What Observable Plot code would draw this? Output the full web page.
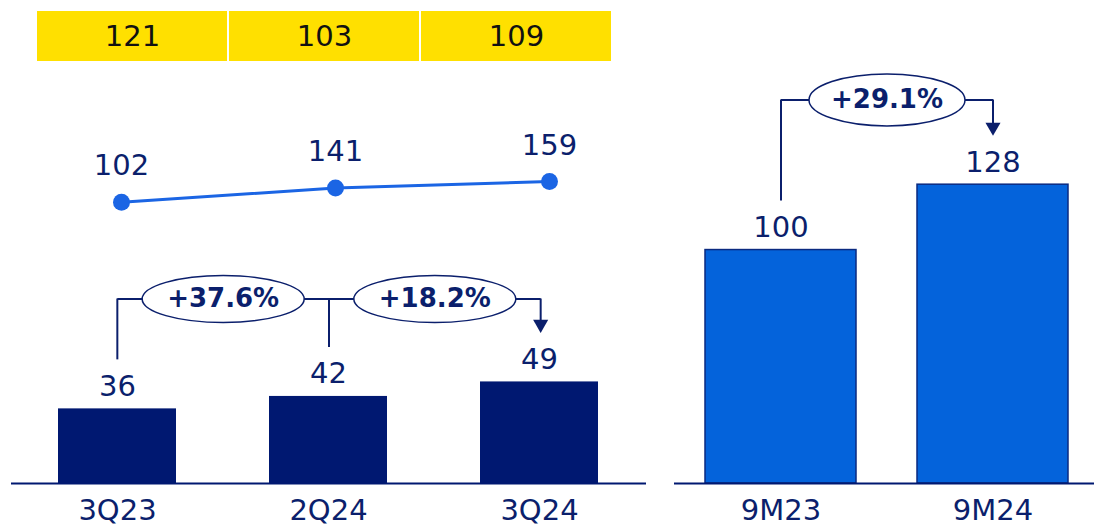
<!DOCTYPE html>
<html><head><meta charset="utf-8">
<script src="https://cdn.jsdelivr.net/npm/d3@7"></script>
<script src="https://cdn.jsdelivr.net/npm/@observablehq/plot@0.6"></script>
<style>
html,body{margin:0;padding:0;background:#fff;}
#chart{position:relative;width:1094px;height:529px;overflow:hidden;}
#chart > svg{position:absolute;left:0;top:0;}
</style></head><body><div id="chart"></div>
<script>
// ---- data ----
const quarters = ["3Q23", "2Q24", "3Q24"];
const quarterBars = [36, 42, 49];
const quarterLine = [102, 141, 159];
const quarterBoxes = [121, 103, 109];
const quarterGrowth = ["+37.6%", "+18.2%"];
const periods = ["9M23", "9M24"];
const periodBars = [100, 128];
const periodGrowth = ["+29.1%"];

// ---- style ----
const W = 1094, H = 529;
const NAVY = "#0b1f6c", BAR = "#001871", BLUE = "#1b65e4", RBAR = "#0463db", RSTROKE = "#0a2a80", YEL = "#ffe000";
const FONT = "DejaVu Sans";
const base = {width: W, height: H, style: {background: "transparent", fontFamily: FONT, color: NAVY, overflow: "visible"}};
const BASE_Y = 483;      // baseline pixel of both bar panels
const GAP = 49;          // px gap between bar top and bracket end
const LEVEL_L = 89;      // bracket level (left bar units)
const LEVEL_R = 164.3;   // bracket level (right bar units)
const YMAX_L = 233, YMAX_R = 206.9;

function ellipseSymbol(rx, ry) {
  const k = 0.5523;
  return {draw(c) {
    c.moveTo(rx, 0);
    c.bezierCurveTo(rx, ry * k, rx * k, ry, 0, ry);
    c.bezierCurveTo(-rx * k, ry, -rx, ry * k, -rx, 0);
    c.bezierCurveTo(-rx, -ry * k, -rx * k, -ry, 0, -ry);
    c.bezierCurveTo(rx * k, -ry, rx, -ry * k, rx, 0);
    c.closePath();
  }};
}

const root = document.getElementById("chart");
const add = (p) => root.appendChild(p);

// ---- left bars ----
const qData = quarters.map((q, i) => ({q, v: quarterBars[i]}));
add(Plot.plot({...base,
  marginLeft: 11, marginRight: W - 646, marginTop: 0, marginBottom: H - BASE_Y,
  x: {type: "band", domain: quarters, paddingInner: 0.44, paddingOuter: 0.22},
  y: {domain: [0, YMAX_L], axis: null},
  marks: [
    Plot.barY(qData, {x: "q", y: "v", fill: BAR}),
    Plot.text(qData, {x: "q", y: "v", text: d => String(d.v), dy: -13, lineAnchor: "bottom", fontSize: 29, fill: NAVY}),
    Plot.ruleY([0], {stroke: BAR, strokeWidth: 2}),
    Plot.axisX({tickSize: 0, tickPadding: 16, fontSize: 29, fill: NAVY, label: null})
  ]
}));

// ---- yellow boxes ----
const boxData = quarters.map((q, i) => ({q, v: quarterBoxes[i]}));
add(Plot.plot({...base,
  marginLeft: 37, marginRight: W - 611, marginTop: 11, marginBottom: H - 61,
  x: {type: "band", domain: quarters, paddingInner: 0.012, paddingOuter: 0, axis: null},
  marks: [
    Plot.cell(boxData, {x: "q", fill: YEL}),
    Plot.text(boxData, {x: "q", text: d => String(d.v), fontSize: 29, fill: "#111", lineAnchor: "middle"})
  ]
}));

// ---- line ----
const lineData = quarters.map((q, i) => ({q, v: quarterLine[i]}));
add(Plot.plot({...base,
  marginLeft: 120, marginRight: W - 549, marginTop: 181, marginBottom: H - 201.7,
  x: {type: "point", domain: quarters, padding: 0, axis: null},
  y: {domain: [102, 159], axis: null},
  marks: [
    Plot.line(lineData, {x: "q", y: "v", stroke: BLUE, strokeWidth: 3}),
    Plot.dot(lineData, {x: "q", y: "v", r: 8.5, fill: BLUE}),
    Plot.text(lineData, {x: "q", y: "v", text: d => String(d.v), dy: -27, lineAnchor: "bottom", fontSize: 29, fill: NAVY})
  ]
}));

// ---- left annotations ----
const qTrans = quarterGrowth.map((g, i) => ({from: i, to: i + 1, mid: i + 0.5, label: g, v0: quarterBars[i], v1: quarterBars[i + 1]}));
const qLast = [qTrans[qTrans.length - 1]];
add(Plot.plot({...base,
  marginLeft: 11, marginRight: W - 646, marginTop: 0, marginBottom: H - BASE_Y,
  x: {domain: [-0.5, quarters.length - 0.5], axis: null},
  y: {domain: [0, YMAX_L], axis: null},
  marks: [
    Plot.ruleX(qTrans, {x: "from", y1: LEVEL_L, y2: "v0", insetBottom: GAP, stroke: NAVY, strokeWidth: 2}),
    Plot.link(qTrans, {x1: "from", x2: "to", y1: LEVEL_L, y2: LEVEL_L, stroke: NAVY, strokeWidth: 2}),
    Plot.ruleX(qLast, {x: "to", y1: LEVEL_L, y2: "v1", insetBottom: GAP + 8, stroke: NAVY, strokeWidth: 2}),
    Plot.dot(qLast, {x: "to", y: "v1", dy: -(GAP + 8.7), symbol: "triangle", rotate: 180, r: 5.6, fill: NAVY}),
    Plot.dot(qTrans, {x: "mid", y: LEVEL_L, symbol: ellipseSymbol(81, 23.5), fill: "white", stroke: NAVY, strokeWidth: 1.5}),
    Plot.text(qTrans, {x: "mid", y: LEVEL_L, text: "label", fontWeight: "bold", fontSize: 26, fill: NAVY, lineAnchor: "middle"})
  ]
}));

// ---- right bars ----
const pData = periods.map((p, i) => ({p, v: periodBars[i]}));
add(Plot.plot({...base,
  marginLeft: 674, marginRight: 0, marginTop: 0, marginBottom: H - BASE_Y,
  x: {type: "band", domain: periods, range: [674.5, 1098.5], paddingInner: 0.288, paddingOuter: 0.144},
  y: {domain: [0, YMAX_R], axis: null},
  marks: [
    Plot.barY(pData, {x: "p", y: "v", fill: RBAR, stroke: RSTROKE, strokeWidth: 1.5}),
    Plot.text(pData, {x: "p", y: "v", text: d => String(d.v), dy: -13, lineAnchor: "bottom", fontSize: 29, fill: NAVY}),
    Plot.ruleY([0], {stroke: BAR, strokeWidth: 2}),
    Plot.axisX({tickSize: 0, tickPadding: 16, fontSize: 29, fill: NAVY, label: null})
  ]
}));

// ---- right annotations ----
const pTrans = periodGrowth.map((g, i) => ({from: i, to: i + 1, mid: i + 0.5, label: g, v0: periodBars[i], v1: periodBars[i + 1]}));
add(Plot.plot({...base,
  marginLeft: 674, marginRight: 0, marginTop: 0, marginBottom: H - BASE_Y,
  x: {domain: [-0.5, periods.length - 0.5], range: [674.5, 1098.5], axis: null},
  y: {domain: [0, YMAX_R], axis: null},
  marks: [
    Plot.ruleX(pTrans, {x: "from", y1: LEVEL_R, y2: "v0", insetBottom: GAP, stroke: NAVY, strokeWidth: 2}),
    Plot.link(pTrans, {x1: "from", x2: "to", y1: LEVEL_R, y2: LEVEL_R, stroke: NAVY, strokeWidth: 2}),
    Plot.ruleX(pTrans, {x: "to", y1: LEVEL_R, y2: "v1", insetBottom: GAP + 8, stroke: NAVY, strokeWidth: 2}),
    Plot.dot(pTrans, {x: "to", y: "v1", dy: -(GAP + 8.7), symbol: "triangle", rotate: 180, r: 5.6, fill: NAVY}),
    Plot.dot(pTrans, {x: "mid", y: LEVEL_R, symbol: ellipseSymbol(78, 26), fill: "white", stroke: NAVY, strokeWidth: 1.5}),
    Plot.text(pTrans, {x: "mid", y: LEVEL_R, text: "label", fontWeight: "bold", fontSize: 26, fill: NAVY, lineAnchor: "middle"})
  ]
}));
</script></body></html>
